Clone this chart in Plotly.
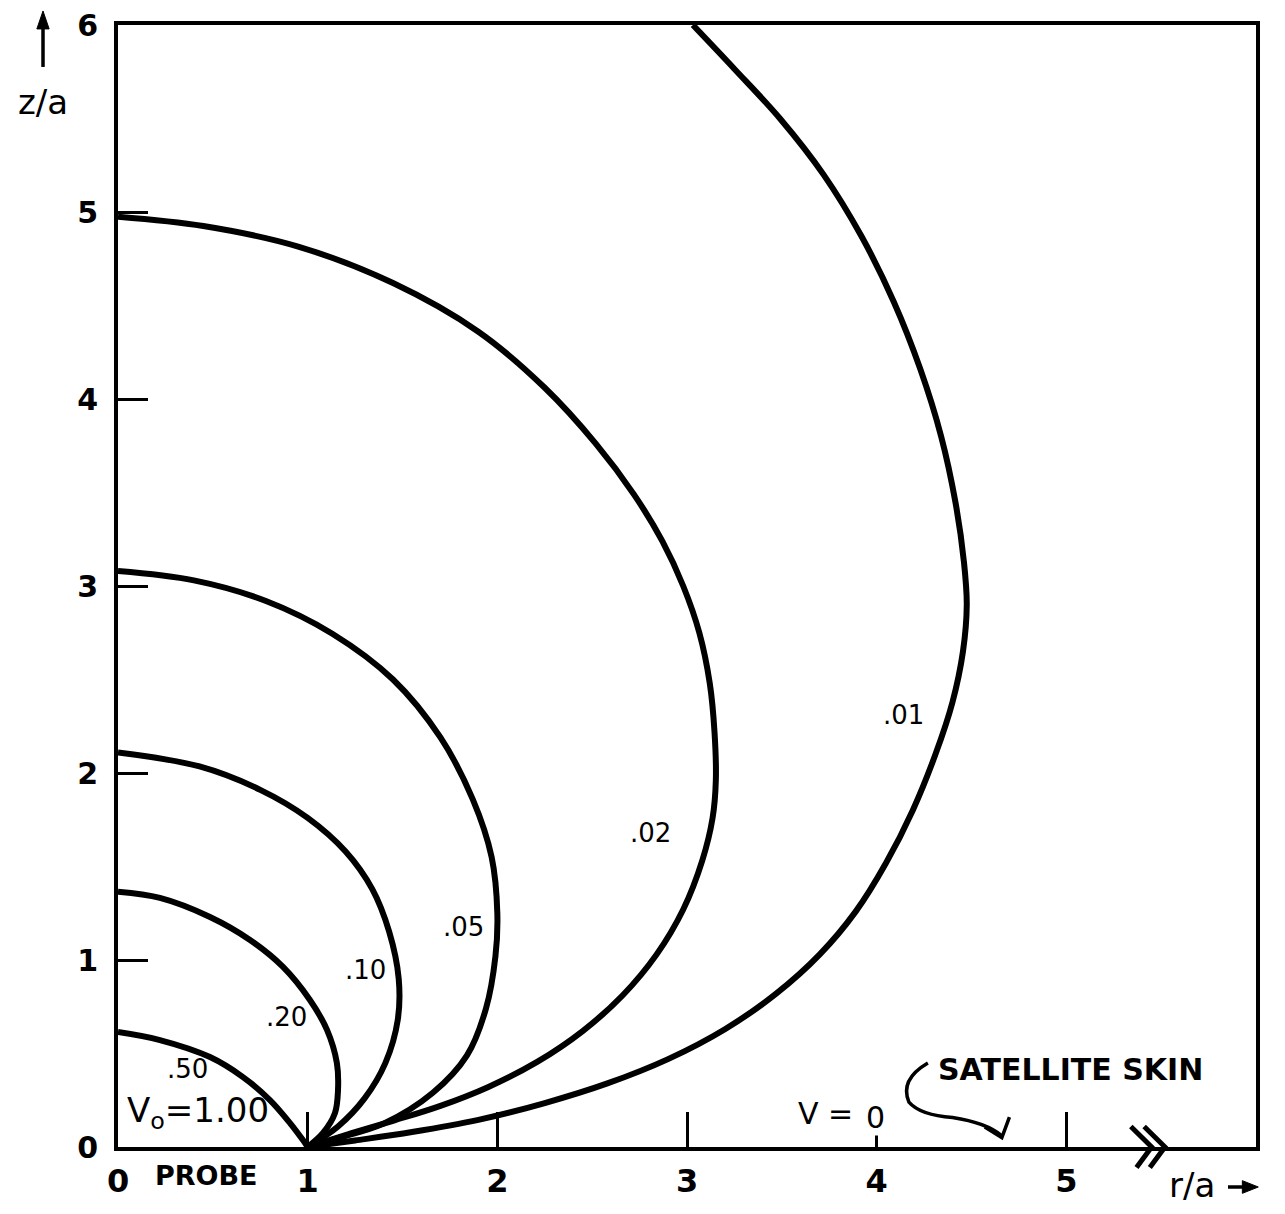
import plotly.graph_objects as go

# ---- data (r/a, z/a) ----
r_50 = [0.0, 0.221, 0.485, 0.659, 0.801, 0.907, 0.975, 1.0]
z_50 = [0.615, 0.572, 0.481, 0.374, 0.251, 0.128, 0.037, 0.0]

r_20 = [0.0, 0.221, 0.485, 0.696, 0.870, 1.012, 1.102, 1.154, 1.160, 1.144, 1.081, 1.0]
z_20 = [1.365, 1.332, 1.230, 1.107, 0.963, 0.786, 0.626, 0.449, 0.305, 0.182, 0.075, 0.0]

r_10 = [0.0, 0.43, 0.75, 1.00, 1.20, 1.34, 1.43, 1.48, 1.475, 1.41, 1.30, 1.16, 1.0]
z_10 = [2.11, 2.035, 1.91, 1.76, 1.58, 1.38, 1.15, 0.90, 0.68, 0.45, 0.26, 0.11, 0.0]

r_05 = [0.0, 0.40, 0.78, 1.13, 1.45, 1.70, 1.87, 1.97, 2.00, 1.99, 1.94, 1.84, 1.66, 1.40, 1.15, 1.0]
z_05 = [3.08, 3.03, 2.92, 2.745, 2.50, 2.19, 1.86, 1.55, 1.25, 1.02, 0.74, 0.49, 0.29, 0.125, 0.045, 0.0]

r_02 = [0.0, 0.45, 0.95, 1.45, 1.90, 2.25, 2.52, 2.72, 2.87, 2.98, 3.065, 3.12, 3.145, 3.152,
        3.135, 3.08, 2.98, 2.84, 2.66, 2.45, 2.21, 1.95, 1.70, 1.45, 1.22, 1.0]
z_02 = [4.975, 4.925, 4.815, 4.62, 4.36, 4.06, 3.76, 3.49, 3.24, 3.00, 2.75, 2.48, 2.22, 1.96,
        1.76, 1.53, 1.27, 1.03, 0.81, 0.62, 0.455, 0.32, 0.22, 0.14, 0.07, 0.0]

r_01 = [3.031, 3.25, 3.49, 3.72, 3.92, 4.09, 4.23, 4.34, 4.415, 4.46, 4.475, 4.455,
        4.40, 4.31, 4.19, 4.05, 3.89, 3.70, 3.47, 3.20, 2.90, 2.58, 2.25, 1.90, 1.55, 1.25, 1.0]
z_01 = [6.0, 5.765, 5.50, 5.20, 4.87, 4.52, 4.16, 3.80, 3.45, 3.13, 2.90, 2.65,
        2.38, 2.10, 1.80, 1.52, 1.26, 1.03, 0.82, 0.63, 0.47, 0.34, 0.235, 0.145, 0.08, 0.035, 0.0]

curves = [("0.50", r_50, z_50), ("0.20", r_20, z_20), ("0.10", r_10, z_10),
          ("0.05", r_05, z_05), ("0.02", r_02, z_02), ("0.01", r_01, z_01)]

x_ticks = [0, 1, 2, 3, 4, 5]
y_ticks = [0, 1, 2, 3, 4, 5, 6]

# curve labels: text, r, z
label_text = [".50", ".20", ".10", ".05", ".02", ".01"]
label_r = [0.364, 0.891, 1.307, 1.819, 2.810, 4.143]
label_z = [0.417, 0.695, 0.947, 1.177, 1.678, 2.310]

FONT = "DejaVu Sans"

fig = go.Figure()
for name, r, z in curves:
    fig.add_trace(go.Scatter(x=r, y=z, mode="lines", name=name,
                             line=dict(color="black", width=6, shape="spline", smoothing=1.0),
                             showlegend=False, hoverinfo="skip"))

ann = []
for t, x, y in zip(label_text, label_r, label_z):
    ann.append(dict(x=x, y=y, text=t, showarrow=False, xanchor="center", yanchor="middle",
                    font=dict(family=FONT, size=26, color="black")))

def pa(x, y, text, size, **kw):
    d = dict(xref="paper", yref="paper", x=x, y=y, text=text, showarrow=False,
             xanchor="center", yanchor="middle", font=dict(family=FONT, size=size, color="black"))
    d.update(kw)
    return d

ann += [
    dict(x=0.42, y=0.185, text="V<sub>o</sub>=1.00", showarrow=False, xanchor="center", yanchor="middle",
         font=dict(family=FONT, size=34, color="black")),
    dict(x=3.73, y=0.18, text="V =", showarrow=False, xanchor="center", yanchor="middle",
         font=dict(family=FONT, size=30, color="black")),
    dict(x=3.995, y=0.16, text="0", showarrow=False, xanchor="center", yanchor="middle",
         bgcolor="white", borderpad=0,
         font=dict(family=FONT, size=30, color="black")),
    dict(x=5.02, y=0.415, text="<b>SATELLITE SKIN</b>", showarrow=False, xanchor="center", yanchor="middle",
         font=dict(family=FONT, size=30, color="black")),
    pa(0.078, -0.025, "<b>PROBE</b>", 27),
    pa(-0.066, 0.931, "z/a", 34),
    pa(0.944, -0.034, "r/a", 34),
]

# paper coords = data/6 because both axes span 0..6
shapes = [
    # curly pointer from "SATELLITE SKIN" to the axis
    dict(type="path", xref="x", yref="y",
         path="M 4.27,0.449 Q 4.12,0.36 4.17,0.24 Q 4.23,0.17 4.40,0.158 Q 4.58,0.13 4.66,0.06",
         line=dict(color="black", width=3.5)),
    dict(type="path", xref="x", yref="y",
         path="M 4.57,0.107 L 4.66,0.05 L 4.70,0.16",
         line=dict(color="black", width=3.5)),
    # axis break chevrons (>>)
    dict(type="path", xref="paper", yref="paper",
         path="M 0.8900,0.0183 L 0.9083,0.0 L 0.8950,-0.0183",
         line=dict(color="black", width=5)),
    dict(type="path", xref="paper", yref="paper",
         path="M 0.9017,0.0183 L 0.9200,0.0 L 0.9067,-0.0183",
         line=dict(color="black", width=5)),
    # up arrow beside z/a
    dict(type="line", xref="paper", yref="paper", x0=-0.0659, y0=0.9626, x1=-0.0659, y1=1.000,
         line=dict(color="black", width=3.5)),
    dict(type="path", xref="paper", yref="paper",
         path="M -0.0659,1.0125 L -0.0713,0.9965 L -0.0605,0.9965 Z",
         fillcolor="black", line=dict(color="black", width=1)),
    # right arrow after r/a
    dict(type="line", xref="paper", yref="paper", x0=0.9754, y0=-0.03565, x1=0.9920, y1=-0.03565,
         line=dict(color="black", width=3.5)),
    dict(type="path", xref="paper", yref="paper",
         path="M 1.0020,-0.03565 L 0.9880,-0.0300 L 0.9880,-0.0413 Z",
         fillcolor="black", line=dict(color="black", width=1)),
]

fig.update_layout(
    width=1269, height=1198,
    margin=dict(l=110, r=21, t=17, b=59),
    paper_bgcolor="white", plot_bgcolor="white",
    annotations=ann, shapes=shapes,
    font=dict(family=FONT, color="black"),
)
fig.update_xaxes(range=[0, 6], tickvals=x_ticks, ticktext=[str(v) for v in x_ticks],
                 ticks="inside", ticklen=35, tickwidth=3, tickcolor="black",
                 showline=True, linewidth=4, linecolor="black", mirror=True,
                 showgrid=False, zeroline=False, automargin=False, ticklabeloverflow="allow",
                 tickfont=dict(family=FONT, size=32, color="black", weight="bold"), ticklabelstandoff=3)
fig.update_yaxes(range=[0, 6], tickvals=y_ticks, ticktext=[str(v) for v in y_ticks],
                 ticks="inside", ticklen=30, tickwidth=3, tickcolor="black",
                 showline=True, linewidth=4, linecolor="black", mirror=True,
                 showgrid=False, zeroline=False, automargin=False, ticklabeloverflow="allow",
                 tickfont=dict(family=FONT, size=30, color="black", weight="bold"), ticklabelstandoff=10)

fig.write_html("out.html")
